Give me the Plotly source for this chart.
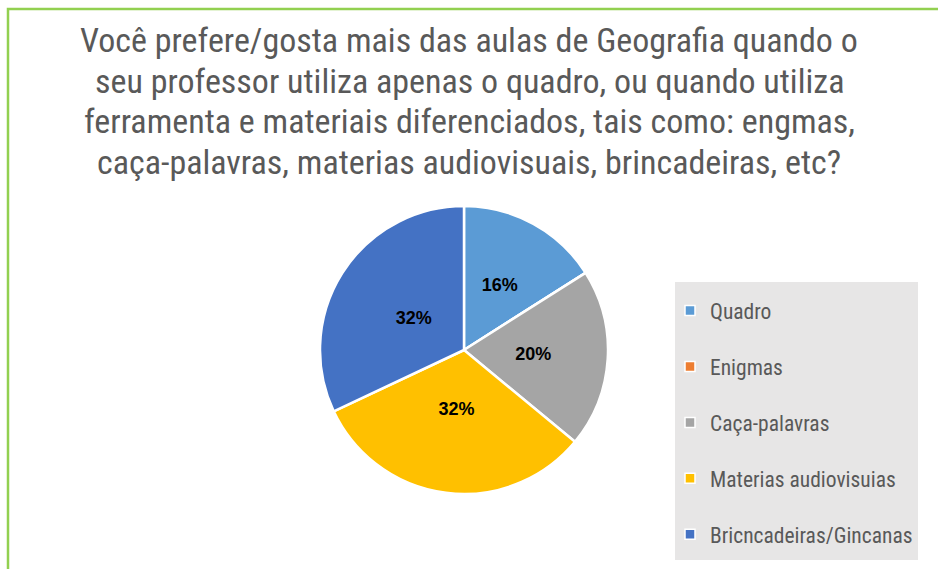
import plotly.graph_objects as go

labels = ["Quadro", "Enigmas", "Caça-palavras", "Materias audiovisuias", "Bricncadeiras/Gincanas"]
values = [4, 0, 5, 8, 8]
colors = ["#5B9BD5", "#ED7D31", "#A5A5A5", "#FFC000", "#4472C4"]
title_lines = [
    "Você prefere/gosta mais das aulas de Geografia quando o",
    "seu professor utiliza apenas o quadro, ou quando utiliza",
    "ferramenta e materiais diferenciados, tais como: engmas,",
    "caça-palavras, materias audiovisuais, brincadeiras, etc?",
]

W, H = 938, 569
NARROW = "Liberation Sans Narrow, Arial Narrow, Roboto Condensed, Liberation Sans, sans-serif"

fig = go.Figure()

def dom(cx, cy, r):
    return dict(x=[(cx - r) / W, (cx + r) / W], y=[(H - cy - r) / H, (H - cy + r) / H])

cx, cy, r = 464, 350, 144
# visible pie
fig.add_trace(go.Pie(
    labels=labels, values=values, sort=False, direction="clockwise", rotation=0,
    marker=dict(colors=colors, line=dict(color="white", width=2.5)),
    textinfo="none", domain=dom(cx, cy, r),
    showlegend=False, hoverinfo="label+percent",
))
# transparent inner pie carrying the percentage labels closer to the centre
fig.add_trace(go.Pie(
    labels=labels, values=values, sort=False, direction="clockwise", rotation=0,
    marker=dict(colors=["rgba(0,0,0,0)"] * len(values), line=dict(width=0)),
    texttemplate=["%{percent:.0%}" if v > 0 else "" for v in values],
    textposition="inside", insidetextorientation="horizontal",
    insidetextfont=dict(family="Liberation Sans", size=18, color="black", weight="bold"),
    domain=dom(cx, cy, 110),
    showlegend=False, hoverinfo="skip",
))

# legend entries (one per category) so the spacing can follow the reference
for lab, col in zip(labels, colors):
    fig.add_trace(go.Scatter(
        x=[None], y=[None], mode="markers", name=lab, legendgroup=lab,
        marker=dict(symbol="square", size=10, color=col, line=dict(color="white", width=1.5)),
        hoverinfo="skip",
    ))

annotations = []
for i, line in enumerate(title_lines):
    annotations.append(dict(
        text=line, xref="paper", yref="paper", x=0.5, y=1 - (40 + i * 40.5) / H,
        xanchor="center", yanchor="middle", showarrow=False,
        font=dict(family=NARROW, size=34, color="#595959"),
    ))

fig.update_layout(
    width=W, height=H, margin=dict(l=0, r=0, t=0, b=0),
    paper_bgcolor="white", plot_bgcolor="white",
    xaxis=dict(visible=False), yaxis=dict(visible=False),
    annotations=annotations,
    legend=dict(
        x=670 / W, y=1 - 290 / H, xanchor="left", yanchor="top",
        bgcolor="rgba(0,0,0,0)", font=dict(family=NARROW, size=21.5, color="#595959"),
        tracegroupgap=25, itemclick=False, itemdoubleclick=False,
    ),
    shapes=[
        dict(type="rect", xref="paper", yref="paper",
             x0=8 / W, x1=1.05, y0=-0.05, y1=1 - 9 / H,
             line=dict(color="#92D050", width=2.5), layer="below"),
        dict(type="rect", xref="paper", yref="paper",
             x0=675 / W, x1=918 / W, y0=1 - 560 / H, y1=1 - 282 / H,
             fillcolor="#E7E6E6", line=dict(width=0), layer="below"),
    ],
)

fig.write_html("out.html")
